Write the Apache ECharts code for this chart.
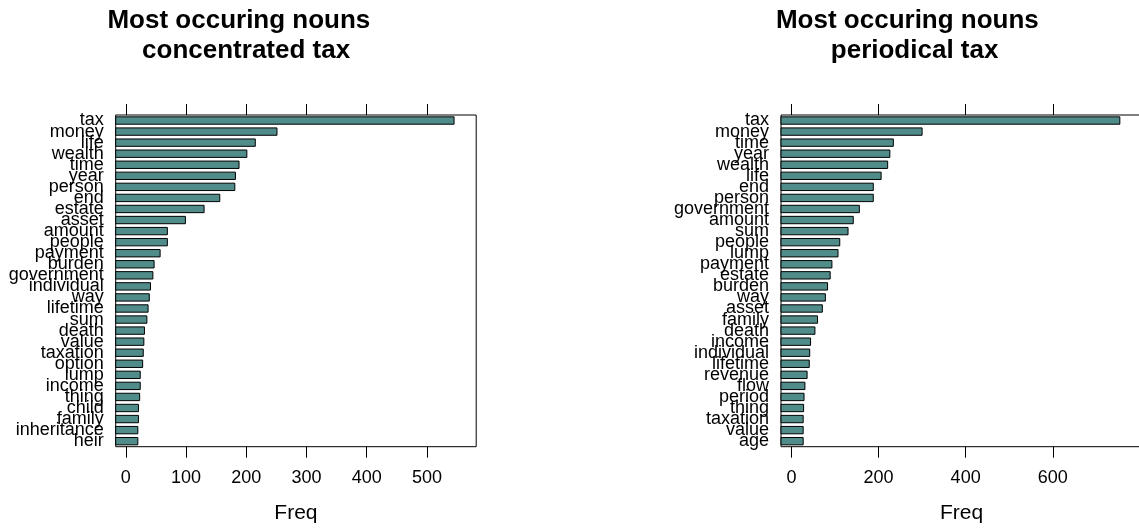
<!DOCTYPE html>
<html>
<head>
<meta charset="utf-8">
<script src="https://cdn.jsdelivr.net/npm/echarts@6/dist/echarts.min.js"></script>
<style>
html,body{margin:0;padding:0;background:#fff;}
#chart{width:1139px;height:529px;}
</style>
</head>
<body>
<div id="chart"></div>
<script>
// ---- Data ----
const leftTitle = 'Most occuring nouns \n concentrated tax';
const rightTitle = 'Most occuring nouns \n periodical tax';
const leftNouns = ['tax','money','life','wealth','time','year','person','end','estate','asset',
  'amount','people','payment','burden','government','individual','way','lifetime','sum','death',
  'value','taxation','option','lump','income','thing','child','family','inheritance','heir'];
const leftFreq = [545,251,215,201,188,182,181,156,130,99,
  69,69,57,47,45,41,39,37,35,31,
  30,29,28,24,24,23,21,21,20,20];
const rightNouns = ['tax','money','time','year','wealth','life','end','person','government','amount',
  'sum','people','lump','payment','estate','burden','way','asset','family','death',
  'income','individual','lifetime','revenue','flow','period','thing','taxation','value','age'];
const rightFreq = [754,300,234,226,221,206,188,188,156,142,
  130,111,107,93,89,83,78,71,60,54,
  44,42,41,36,31,29,28,27,27,27];
const leftTicks = [0,100,200,300,400,500];
const rightTicks = [0,200,400,600];
const axisTitle = 'Freq';

// ---- Styling ----
const FONT = '"Liberation Sans", Arial, Helvetica, sans-serif';
const BAR_COLOR = '#508c8a';

function limits(vals){
  const mn = Math.min(...vals), mx = Math.max(...vals);
  const pad = 0.07*(mx-mn);
  return [mn-pad, mx+pad];
}

const chart = echarts.init(document.getElementById('chart'), null, {renderer:'canvas'});

const panels = [
  {nouns:leftNouns, freq:leftFreq, ticks:leftTicks, left:115.7, width:360.5},
  {nouns:rightNouns, freq:rightFreq, ticks:rightTicks, left:781, width:361}
];

const grids=[], xAxes=[], yAxes=[], series=[];
panels.forEach((p, i) => {
  const [lo, hi] = limits(p.freq);
  grids.push({left:p.left, width:p.width, top:115, height:331.7, show:true,
    borderColor:'#000', borderWidth:1, backgroundColor:'#fff', containLabel:false,
    outerBoundsMode:'none'});
  // bottom axis with labels
  xAxes.push({type:'value', gridIndex:i, position:'bottom', min:lo, max:hi,
    axisLine:{show:false}, splitLine:{show:false},
    axisTick:{show:true, length:11, lineStyle:{color:'#000', width:1}, customValues:p.ticks},
    axisLabel:{show:true, color:'#000', fontSize:18, fontFamily:FONT, margin:22, customValues:p.ticks},
    name:axisTitle, nameLocation:'middle', nameGap:56,
    nameTextStyle:{color:'#000', fontSize:21, fontFamily:FONT}
  });
  // top axis with ticks only
  xAxes.push({type:'value', gridIndex:i, position:'top', min:lo, max:hi,
    axisLine:{show:false}, splitLine:{show:false},
    axisTick:{show:true, length:11, lineStyle:{color:'#000', width:1}, customValues:p.ticks},
    axisLabel:{show:false}
  });
  yAxes.push({type:'category', gridIndex:i, data:p.nouns, inverse:true,
    axisLine:{show:false}, axisTick:{show:false}, splitLine:{show:false},
    axisLabel:{show:true, interval:0, color:'#000', fontSize:18, fontFamily:FONT, margin:12,
      padding:[4,0,0,0]}
  });
  series.push({type:'custom', xAxisIndex:i*2, yAxisIndex:i,
    data:p.freq.map((v, k) => [v, k]),
    encode:{x:0, y:1},
    renderItem:function(params, api){
      const v = api.value(0), c = api.value(1);
      const end = api.coord([v, c]);
      const start = api.coord([lo, c]);
      const h = api.size([0, 1])[1] * 2/3;
      return {type:'rect',
        shape:{x:start[0], y:end[1]-h/2, width:end[0]-start[0], height:h},
        style:{fill:BAR_COLOR, stroke:'#000', lineWidth:1}};
    }
  });
});

chart.setOption({
  animation:false,
  backgroundColor:'#fff',
  grid:grids, xAxis:xAxes, yAxis:yAxes, series:series,
  graphic:[
    {type:'text', x:242.5, y:36, style:{text:leftTitle, font:'bold 26px '+FONT, fill:'#000',
      textAlign:'center', textVerticalAlign:'middle', lineHeight:30}},
    {type:'text', x:911, y:36, style:{text:rightTitle, font:'bold 26px '+FONT, fill:'#000',
      textAlign:'center', textVerticalAlign:'middle', lineHeight:30}}
  ]
});
</script>
</body>
</html>
